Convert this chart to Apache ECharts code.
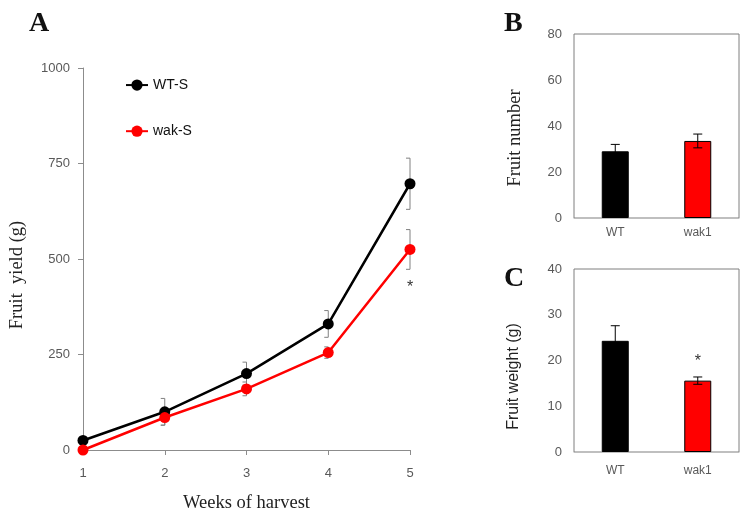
<!DOCTYPE html>
<html>
<head>
    <title>Fruit yield</title>
    <script src="https://cdn.jsdelivr.net/npm/echarts@6/dist/echarts.min.js"></script>
    <style>
        body { margin: 0; background: #fff; }
    </style>
</head>
<body>
    <div id="chart" style="width:752px; height:519px"></div>

    <script>
        // panel A: yield per week
        const weeks = [1, 2, 3, 4, 5];
        const wtYield = [25, 100, 200, 330, 697];
        const wtYieldErr = [5, 35, 30, 35, 67];
        const wakYield = [0, 85, 160, 255, 525];
        const wakYieldErr = [0, 20, 18, 15, 52];
        const wakYieldSig = ['', '', '', '', '*'];
        const yieldTicks = [0, 250, 500, 750, 1000];

        // panels B and C
        const groups = ['WT', 'wak1'];
        const groupColors = ['#000000', '#ff0000'];
        const fruitNumber = [29, 33.5];
        const fruitNumberErr = [3, 3];
        const fruitWeight = [24.3, 15.6];
        const fruitWeightErr = [3.3, 0.8];
        const fruitWeightSig = ['', '*'];

        const serif = '"Liberation Serif", "DejaVu Serif", serif';
        const sans = '"Liberation Sans", Arial, sans-serif';

        let chart = echarts.init(document.getElementById('chart'));

        // error bar renderer; capLeft = caps only on the left side (like the line chart)
        function errorBars(color, capLeft, capW, sig, sigOffset) {
            return function(params, api) {
                let x = api.value(0), y = api.value(1), e = api.value(2);
                let c = api.coord([x, y]);
                let top = api.coord([x, y + e]);
                let bot = api.coord([x, y - e]);
                let x0 = capLeft ? c[0] - capW : c[0] - capW / 2;
                let x1 = capLeft ? c[0] : c[0] + capW / 2;
                let style = { stroke: color, lineWidth: 1 };
                let children = [];
                if (e > 0) {
                    children.push(
                        { type: 'line', shape: { x1: c[0], y1: top[1], x2: c[0], y2: bot[1] }, style: style },
                        { type: 'line', shape: { x1: x0, y1: top[1], x2: x1, y2: top[1] }, style: style },
                        { type: 'line', shape: { x1: x0, y1: bot[1], x2: x1, y2: bot[1] }, style: style }
                    );
                }
                if (sig && sig[params.dataIndex]) {
                    let ty = sigOffset > 0 ? bot[1] + sigOffset : top[1] + sigOffset;
                    children.push({
                        type: 'text',
                        style: {
                            text: sig[params.dataIndex], x: c[0], y: ty,
                            align: 'center', verticalAlign: 'middle',
                            font: '16px ' + sans, fill: '#333'
                        }
                    });
                }
                return { type: 'group', children: children };
            };
        }

        let tickLabel = { color: '#595959', fontSize: 13, fontFamily: sans };
        let axisName = { color: '#222', fontSize: 18.5, fontFamily: serif };
        let letter = { fontFamily: serif, fontWeight: 'bold', fontSize: 28, color: '#111' };

        let option = {
            animation: false,
            title: [
                { text: 'A', left: 24, top: -3, textStyle: letter },
                { text: 'B', left: 499, top: -3, textStyle: letter },
                { text: 'C', left: 499, top: 252, textStyle: letter }
            ],
            legend: {
                data: ['WT-S', 'wak-S'],
                orient: 'vertical',
                left: 120,
                top: 68,
                itemWidth: 22,
                itemHeight: 14,
                itemGap: 22,
                textStyle: { fontSize: 14, fontFamily: sans, color: '#111' }
            },
            grid: [
                { left: 83, right: 342, top: 68, bottom: 69, outerBoundsMode: 'none' },
                { left: 574, right: 13, top: 34, bottom: 301, outerBoundsMode: 'none', show: true, borderColor: '#7f7f7f', borderWidth: 1 },
                { left: 574, right: 13, top: 269, bottom: 67, outerBoundsMode: 'none', show: true, borderColor: '#7f7f7f', borderWidth: 1 }
            ],
            xAxis: [
                {
                    gridIndex: 0, type: 'value', min: 1, max: 5, interval: 1,
                    name: 'Weeks of harvest', nameLocation: 'middle', nameGap: 38, nameTextStyle: axisName,
                    axisLine: { lineStyle: { color: '#8c8c8c' } },
                    axisTick: { show: true, length: 5, lineStyle: { color: '#8c8c8c' } },
                    axisLabel: Object.assign({ margin: 12 }, tickLabel),
                    splitLine: { show: false }
                },
                {
                    gridIndex: 1, type: 'category', data: groups,
                    axisLine: { lineStyle: { color: '#bfbfbf' } },
                    axisTick: { show: false },
                    axisLabel: { color: '#595959', fontSize: 12, fontFamily: sans, margin: 4 }
                },
                {
                    gridIndex: 2, type: 'category', data: groups,
                    axisLine: { lineStyle: { color: '#bfbfbf' } },
                    axisTick: { show: false },
                    axisLabel: { color: '#595959', fontSize: 12, fontFamily: sans, margin: 8 }
                }
            ],
            yAxis: [
                {
                    gridIndex: 0, type: 'value', min: yieldTicks[0], max: yieldTicks[yieldTicks.length - 1], interval: 250,
                    name: 'Fruit  yield (g)', nameLocation: 'middle', nameGap: 52,
                    nameTextStyle: Object.assign({ padding: [0, 32, 0, 0] }, axisName),
                    axisLine: { show: true, lineStyle: { color: '#8c8c8c' } },
                    axisTick: { show: true, length: 5, lineStyle: { color: '#8c8c8c' } },
                    axisLabel: Object.assign({ margin: 13, formatter: v => String(v) }, tickLabel),
                    splitLine: { show: false }
                },
                {
                    gridIndex: 1, type: 'value', min: 0, max: 80, interval: 20,
                    name: 'Fruit number', nameLocation: 'middle', nameGap: 45,
                    nameTextStyle: Object.assign({ padding: [0, 24, 0, 0] }, axisName),
                    axisLine: { show: false }, axisTick: { show: false },
                    axisLabel: Object.assign({ margin: 12 }, tickLabel),
                    splitLine: { show: false }
                },
                {
                    gridIndex: 2, type: 'value', min: 0, max: 40, interval: 10,
                    name: 'Fruit weight (g)', nameLocation: 'middle', nameGap: 47,
                    nameTextStyle: { color: '#222', fontSize: 16, fontFamily: sans, padding: [0, 32, 0, 0] },
                    axisLine: { show: false }, axisTick: { show: false },
                    axisLabel: Object.assign({ margin: 12 }, tickLabel),
                    splitLine: { show: false }
                }
            ],
            series: [
                {
                    type: 'custom', name: 'wt-err', xAxisIndex: 0, yAxisIndex: 0, z: 1,
                    renderItem: errorBars('#808080', true, 4),
                    data: weeks.map((w, i) => [w, wtYield[i], wtYieldErr[i]])
                },
                {
                    type: 'custom', name: 'wak-err', xAxisIndex: 0, yAxisIndex: 0, z: 1,
                    renderItem: errorBars('#808080', true, 4, wakYieldSig, 18),
                    data: weeks.map((w, i) => [w, wakYield[i], wakYieldErr[i]])
                },
                {
                    name: 'WT-S', type: 'line', xAxisIndex: 0, yAxisIndex: 0, z: 3,
                    data: weeks.map((w, i) => [w, wtYield[i]]),
                    symbol: 'circle', symbolSize: 11,
                    lineStyle: { color: '#000', width: 2.5 },
                    itemStyle: { color: '#000' }
                },
                {
                    name: 'wak-S', type: 'line', xAxisIndex: 0, yAxisIndex: 0, z: 3,
                    data: weeks.map((w, i) => [w, wakYield[i]]),
                    symbol: 'circle', symbolSize: 11,
                    lineStyle: { color: '#ff0000', width: 2.5 },
                    itemStyle: { color: '#ff0000' }
                },
                {
                    type: 'bar', xAxisIndex: 1, yAxisIndex: 1, barWidth: 27,
                    data: fruitNumber.map((v, i) => ({ value: v, itemStyle: { color: groupColors[i], borderColor: '#000', borderWidth: 1 } }))
                },
                {
                    type: 'custom', xAxisIndex: 1, yAxisIndex: 1, z: 4,
                    renderItem: errorBars('#000', false, 9),
                    data: fruitNumber.map((v, i) => [i, v, fruitNumberErr[i]])
                },
                {
                    type: 'bar', xAxisIndex: 2, yAxisIndex: 2, barWidth: 27,
                    data: fruitWeight.map((v, i) => ({ value: v, itemStyle: { color: groupColors[i], borderColor: '#000', borderWidth: 1 } }))
                },
                {
                    type: 'custom', xAxisIndex: 2, yAxisIndex: 2, z: 4,
                    renderItem: errorBars('#000', false, 9, fruitWeightSig, -15),
                    data: fruitWeight.map((v, i) => [i, v, fruitWeightErr[i]])
                }
            ]
        };

        chart.setOption(option);
    </script>
</body>
</html>
